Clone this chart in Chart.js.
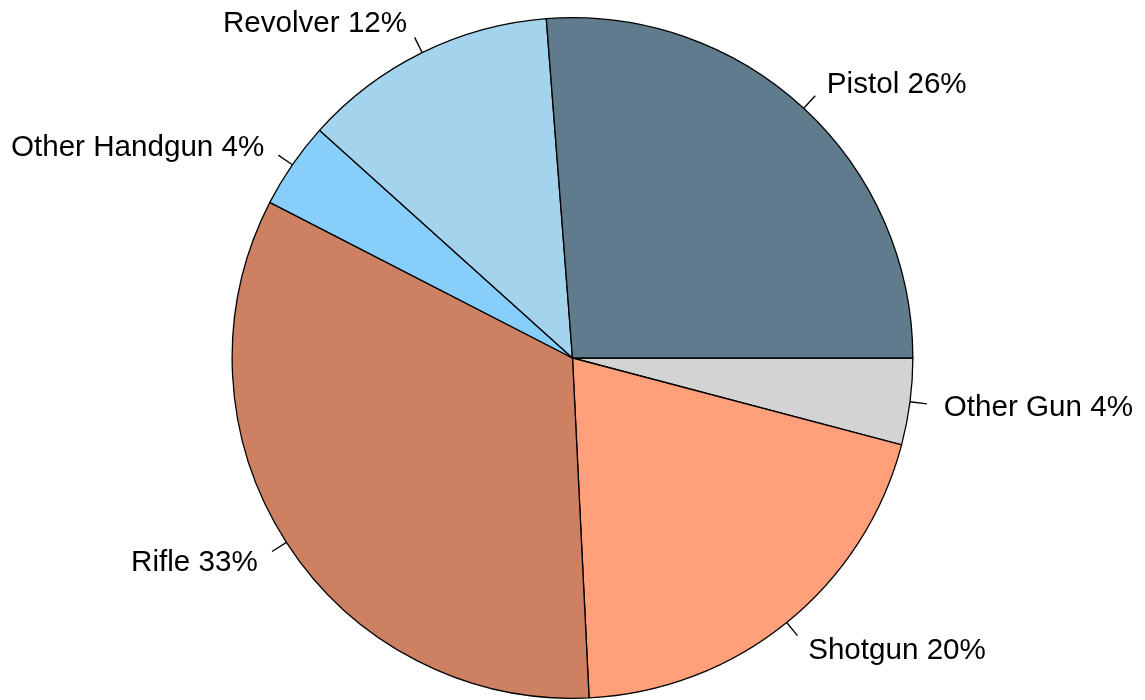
<!DOCTYPE html>
<html>
<head>
<meta charset="utf-8">
<script src="https://cdn.jsdelivr.net/npm/chart.js@4/dist/chart.umd.min.js"></script>
<style>
  html, body { margin: 0; padding: 0; background: #ffffff; }
  #wrap { width: 1145px; height: 700px; }
</style>
</head>
<body>
<div id="wrap"><canvas id="gunPie"></canvas></div>
<script>
// slices counterclockwise from 3 o'clock, like R's pie()
var gun_types = ['Pistol', 'Revolver', 'Other Handgun', 'Rifle', 'Shotgun', 'Other Gun'];
var gun_share = [26.2, 12.1, 4.1, 33.3, 20.1, 4.1];
var gun_colors = ['#607B8B', '#A4D3EE', '#87CEFA', '#CD8162', '#FFA07A', '#D3D3D3'];

// chart.js draws clockwise, so flip the order
var labels_cw = gun_types.slice().reverse();
var share_cw = gun_share.slice().reverse();
var colors_cw = gun_colors.slice().reverse();

var outsideLabels = {
    id: 'outsideLabels',
    afterDatasetsDraw: function(chart) {
        var ctx = chart.ctx;
        var arcs = chart.getDatasetMeta(0).data;
        ctx.save();
        ctx.strokeStyle = '#000000';
        ctx.lineWidth = 1.3;
        ctx.fillStyle = '#000000';
        ctx.font = '29.6px "Liberation Sans", Arial, sans-serif';
        ctx.textBaseline = 'middle';
        arcs.forEach(function(arc, i) {
            var mid = (arc.startAngle + arc.endAngle) / 2;
            var r = arc.outerRadius;
            var c = Math.cos(mid), s = Math.sin(mid);
            ctx.beginPath();
            ctx.moveTo(arc.x + c * r, arc.y + s * r);
            ctx.lineTo(arc.x + c * r * 1.05, arc.y + s * r * 1.05);
            ctx.stroke();
            var txt = labels_cw[i] + ' ' + Math.round(share_cw[i]) + '%';
            ctx.textAlign = c >= 0 ? 'left' : 'right';
            ctx.fillText(txt, arc.x + c * r * 1.1, arc.y + s * r * 1.1 + 2);
        });
        ctx.restore();
    }
};

var gun_pie = new Chart(document.getElementById('gunPie'), {
    type: 'pie',
    data: {
        labels: labels_cw,
        datasets: [{
            data: share_cw,
            backgroundColor: colors_cw,
            borderColor: '#000000',
            borderWidth: 1.3,
            borderAlign: 'center'
        }]
    },
    options: {
        responsive: true,
        maintainAspectRatio: false,
        animation: false,
        rotation: 90,
        layout: {
            padding: { top: 17, bottom: 1, left: 0, right: 0 }
        },
        plugins: {
            legend: { display: false },
            tooltip: { enabled: false }
        }
    },
    plugins: [outsideLabels]
});
</script>
</body>
</html>
